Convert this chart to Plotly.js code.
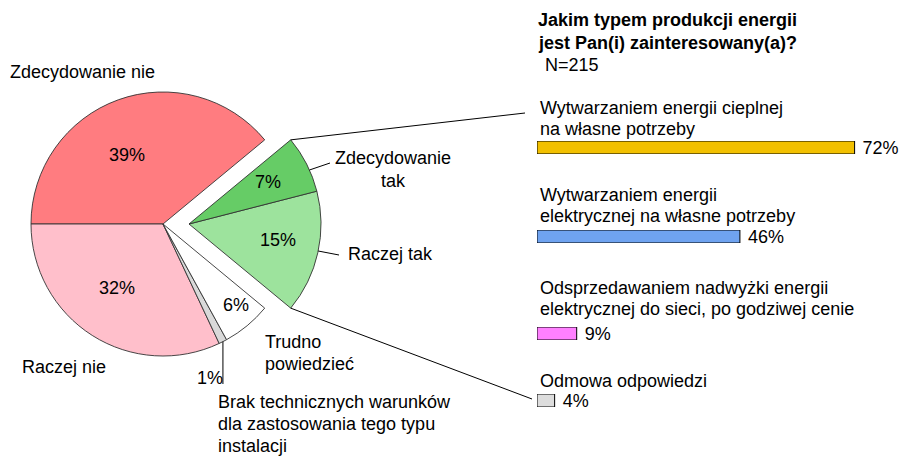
<!DOCTYPE html>
<html>
<head>
<meta charset="utf-8">
<script src="https://cdn.plot.ly/plotly-3.0.1.min.js"></script>
<style>html,body{margin:0;padding:0;background:#fff;}#chart{width:904px;height:458px;}</style>
</head>
<body>
<div id="chart"></div>
<script>
// ---- data ----
const pieCategories = [
  ['Zdecydowanie nie'],
  ['Raczej nie'],
  ['Brak technicznych warunków', 'dla zastosowania tego typu', 'instalacji'],
  ['Trudno', 'powiedzieć'],
  ['Raczej tak'],
  ['Zdecydowanie', 'tak']
];
const pieValues = [39, 32, 1, 6, 15, 7];
const pieColors = ['#FF7C80', '#FFBFCB', '#D9D9D9', '#FFFFFF', '#9DE39D', '#66CC66'];
const pieExploded = [false, false, false, false, true, true];

const chartTitle = ['Jakim typem produkcji energii', 'jest Pan(i) zainteresowany(a)?'];
const sampleNote = 'N=215';

const barCategories = [
  ['Wytwarzaniem energii cieplnej', 'na własne potrzeby'],
  ['Wytwarzaniem energii', 'elektrycznej na własne potrzeby'],
  ['Odsprzedawaniem nadwyżki energii', 'elektrycznej do sieci, po godziwej cenie'],
  ['Odmowa odpowiedzi']
];
const barValues = [72, 46, 9, 4];
const barColors = ['#F2C000', '#6FA3F0', '#FF80FF', '#DDDDDD'];

// ---- layout helpers ----
const W = 904, H = 458;
const px = x => x / W;
const py = y => 1 - y / H;
const FONT = 'Liberation Sans, Arial, sans-serif';

const pieCx = 163, pieCy = 224, pieR = 132, pullDx = 26;
// plotly: with counterclockwise direction the first slice ends at the rotation angle
const rotationDeg = -90;

const traces = [];
const mainColors = pieColors.map((c, i) => pieExploded[i] ? 'rgba(0,0,0,0)' : c);
const mainLines = pieColors.map((c, i) => pieExploded[i] ? 'rgba(0,0,0,0)' : '#333333');
const outColors = pieColors.map((c, i) => pieExploded[i] ? c : 'rgba(0,0,0,0)');
const outLines = pieColors.map((c, i) => pieExploded[i] ? '#333333' : 'rgba(0,0,0,0)');
const labelsFlat = pieCategories.map(l => l.join(' '));

function pieTrace(cx, colors, lines) {
  return {
    type: 'pie', values: pieValues, labels: labelsFlat, sort: false,
    direction: 'counterclockwise', rotation: rotationDeg,
    textinfo: 'none', hoverinfo: 'skip', showlegend: false,
    marker: {colors: colors, line: {color: lines, width: 0.9}},
    domain: {x: [px(cx - pieR), px(cx + pieR)], y: [py(pieCy + pieR), py(pieCy - pieR)]}
  };
}
traces.push(pieTrace(pieCx, mainColors, mainLines));
traces.push(pieTrace(pieCx + pullDx, outColors, outLines));

// bars: each on its own small axis pair
const barTop = [141, 230, 327, 394];
const barH = 13;
const layout = {
  width: W, height: H, margin: {l: 0, r: 0, t: 0, b: 0},
  paper_bgcolor: '#fff', plot_bgcolor: 'rgba(0,0,0,0)',
  bargap: 0, showlegend: false,
  font: {family: FONT, size: 18, color: '#000'},
  annotations: [], shapes: []
};
barValues.forEach((v, i) => {
  const n = i + 2;
  traces.push({
    type: 'bar', orientation: 'h', x: [v], y: [barCategories[i].join(' ')],
    xaxis: 'x' + n, yaxis: 'y' + n,
    marker: {color: barColors[i], line: {color: '#000', width: 1}},
    texttemplate: '\u00a0%{x}%', textposition: 'outside', constraintext: 'none',
    cliponaxis: false, textfont: {family: FONT, size: 18, color: '#000'},
    hoverinfo: 'skip'
  });
  layout['xaxis' + n] = {domain: [px(537), 1], range: [0, 83.2], visible: false, fixedrange: true, anchor: 'y' + n};
  layout['yaxis' + n] = {domain: [py(barTop[i] + barH), py(barTop[i])], range: [-0.5, 0.5], visible: false, fixedrange: true, anchor: 'x' + n};
});

function addLines(lines, x, y0, dy, opts) {
  lines.forEach((t, k) => {
    layout.annotations.push(Object.assign({
      text: t, xref: 'paper', yref: 'paper', x: px(x), y: py(y0 + k * dy),
      xanchor: 'left', yanchor: 'middle', showarrow: false,
      font: {family: FONT, size: 18, color: '#000'}
    }, opts || {}));
  });
}

// pie category labels
addLines(pieCategories[0], 8, 72, 22);
addLines(pieCategories[1], 20, 367, 22);
addLines(pieCategories[2], 216, 402, 22);
addLines(pieCategories[3], 263, 342, 22);
addLines(pieCategories[4], 346, 254, 22);
addLines(pieCategories[5], 393, 158, 23, {xanchor: 'center'});

// pie percent labels
const pctPos = [[127, 155], [117, 288], null, [236, 305], [278, 240], [268, 182]];
pieValues.forEach((v, i) => {
  if (pctPos[i]) addLines([v + '%'], pctPos[i][0], pctPos[i][1], 0, {xanchor: 'center'});
});
addLines([pieValues[2] + '%'], 195, 378, 0);

// title
addLines(chartTitle, 536, 20, 23, {font: {family: FONT, size: 18, color: '#000', weight: 'bold'}});
addLines([sampleNote], 543, 65, 0);

// bar category labels
const barLabelY = [108, 195, 288, 381];
barCategories.forEach((lines, i) => addLines(lines, 538, barLabelY[i], 21));

// connector geometry from the pie values (math angles, counterclockwise)
const total = pieValues.reduce((a, b) => a + b, 0);
const firstStart = (90 - rotationDeg) - pieValues[0] / total * 360;
let cum = 0, grpStart = null, grpEnd = null;
const sliceStart = [];
pieValues.forEach((v, i) => {
  const a0 = firstStart + cum / total * 360;
  sliceStart.push(a0);
  cum += v;
  const a1 = firstStart + cum / total * 360;
  if (pieExploded[i]) {
    if (grpStart === null) grpStart = a0;
    grpEnd = a1;
  }
});
const gcx = pieCx + pullDx;
const pt = (cx, a) => [cx + pieR * Math.cos(a * Math.PI / 180), pieCy - pieR * Math.sin(a * Math.PI / 180)];
const edgeAtY = (cx, y) => cx + Math.sqrt(pieR * pieR - (y - pieCy) * (y - pieCy));
const topPt = pt(gcx, grpEnd), botPt = pt(gcx, grpStart);
function seg(x0, y0, x1, y1) {
  layout.shapes.push({type: 'line', xref: 'paper', yref: 'paper', x0: px(x0), y0: py(y0), x1: px(x1), y1: py(y1), line: {color: '#000', width: 1}});
}
seg(topPt[0], topPt[1], 525, 113);
seg(botPt[0], botPt[1], 532, 399);
seg(edgeAtY(gcx, 170), 170, 330, 163);
seg(edgeAtY(gcx, 251), 251, 339, 255);
// 1% leader
const brakPt = pt(pieCx, sliceStart[2] + pieValues[2] / total * 180);
seg(brakPt[0], brakPt[1], brakPt[0], 384);

Plotly.newPlot('chart', traces, layout, {displayModeBar: false, staticPlot: true});
</script>
</body>
</html>
